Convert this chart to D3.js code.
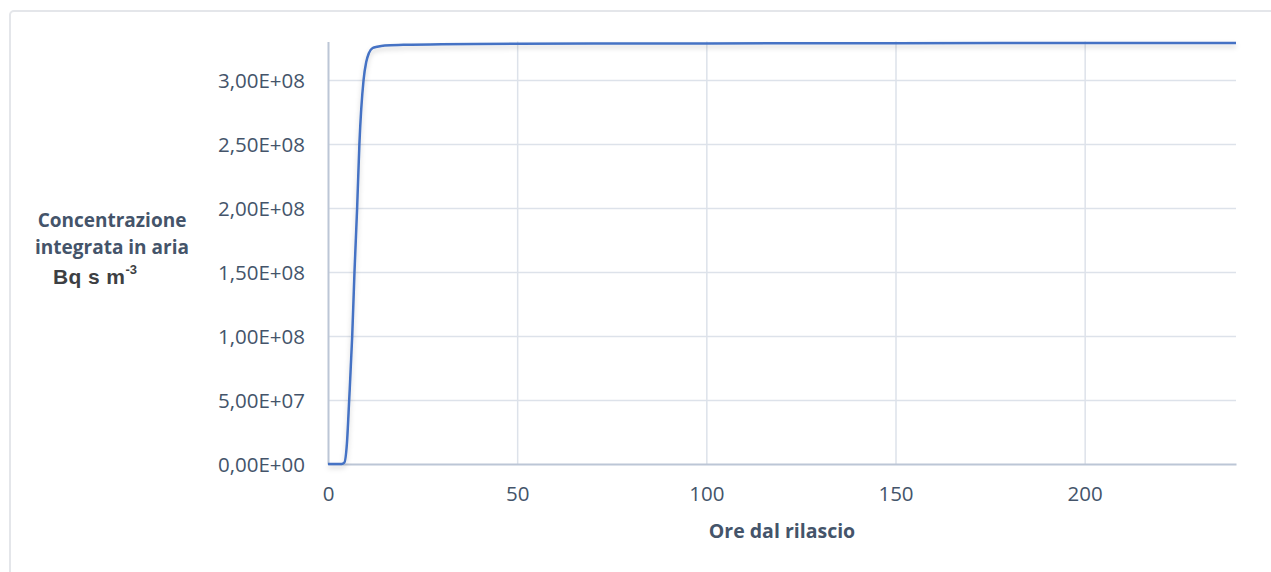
<!DOCTYPE html>
<html>
<head>
<meta charset="utf-8">
<script src="https://cdn.jsdelivr.net/npm/d3@7/dist/d3.min.js"></script>
<style>
  html, body { margin: 0; padding: 0; background: #ffffff; }
  svg { display: block; }
</style>
</head>
<body>
<svg id="chart" width="1271" height="572"></svg>
<script>
// Integrated air concentration after release (hours -> Bq s m^-3)
const hours = [0, 2, 3.6, 4.3, 5, 5.6, 6.4, 7.0, 7.7, 8.3, 9.4, 10.1, 10.8, 11.8, 13, 15, 20, 30, 50, 100, 150, 200, 240];
const concentration = [0, 0, 0, 0.01e8, 0.16e8, 0.5e8, 1.0e8, 1.5e8, 2.0e8, 2.5e8, 3.0e8, 3.14e8, 3.21e8, 3.25e8, 3.26e8, 3.27e8, 3.275e8, 3.28e8, 3.283e8, 3.286e8, 3.288e8, 3.29e8, 3.29e8];

const xTicks = [0, 50, 100, 150, 200];
const yTicks = [0, 5e7, 1e8, 1.5e8, 2e8, 2.5e8, 3e8];

const xTitle = "Ore dal rilascio";
const yTitleLines = ["Concentrazione", "integrata in aria"];

const svg = d3.select("#chart");
const W = 1271, H = 572;
const margin = { left: 328, right: W - 1236, top: 41.6, bottom: H - 464 };

const x = d3.scaleLinear().domain([0, 240]).range([margin.left, W - margin.right]);
const y = d3.scaleLinear().domain([0, 3.3e8]).range([H - margin.bottom, margin.top]);

const textColor = "#44546a";
const gridColor = "#dde2ea";
const axisColor = "#bcc6d6";
const lineColor = "#4472c4";

// outer chart-area frame
svg.append("rect")
  .attr("x", 10).attr("y", 11)
  .attr("width", W + 20).attr("height", H + 20)
  .attr("rx", 4)
  .attr("fill", "none")
  .attr("stroke", "#e4e6ea")
  .attr("stroke-width", 2);

const defs = svg.append("defs");
const shadow = defs.append("filter").attr("id", "lineShadow")
  .attr("x", "-5%").attr("y", "-5%").attr("width", "110%").attr("height", "120%");
shadow.append("feDropShadow")
  .attr("dx", 0).attr("dy", 3).attr("stdDeviation", 2.5)
  .attr("flood-color", "#000").attr("flood-opacity", 0.18);

const fmt = v => {
  const s = v.toExponential(2).replace(".", ",");
  const [m, e] = s.split("e");
  const sign = e[0] === "-" ? "-" : "+";
  const exp = e.replace(/[+-]/, "").padStart(2, "0");
  return `${m}E${sign}${exp}`;
};

// horizontal gridlines
svg.append("g")
  .attr("transform", `translate(${margin.left},0)`)
  .call(d3.axisLeft(y).tickValues(yTicks.filter(d => d > 0)).tickSize(-(x.range()[1] - x.range()[0])).tickFormat(""))
  .call(g => g.select(".domain").remove())
  .call(g => g.selectAll("line").attr("stroke", gridColor).attr("stroke-width", 1.5));

// vertical gridlines
svg.append("g")
  .attr("transform", `translate(0,${y(0)})`)
  .call(d3.axisBottom(x).tickValues(xTicks.filter(d => d > 0)).tickSize(-(y.range()[0] - y.range()[1])).tickFormat(""))
  .call(g => g.select(".domain").remove())
  .call(g => g.selectAll("line").attr("stroke", gridColor).attr("stroke-width", 1.5));

// y axis line + labels
const yAxis = svg.append("g")
  .attr("transform", `translate(${margin.left},0)`)
  .call(d3.axisLeft(y).tickValues(yTicks).tickSize(0).tickPadding(23).tickFormat(fmt));
yAxis.select(".domain").attr("stroke", axisColor).attr("stroke-width", 2);
yAxis.selectAll("text")
  .attr("fill", textColor)
  .attr("font-family", "'Open Sans', sans-serif")
  .attr("font-size", 20.5)
  .attr("dy", "0.35em");

// x axis line + labels
const xAxis = svg.append("g")
  .attr("transform", `translate(0,${y(0)})`)
  .call(d3.axisBottom(x).tickValues(xTicks).tickSize(0).tickPadding(22).tickFormat(d3.format("d")));
xAxis.select(".domain").attr("stroke", axisColor).attr("stroke-width", 2);
xAxis.selectAll("text")
  .attr("fill", textColor)
  .attr("font-family", "'Open Sans', sans-serif")
  .attr("font-size", 20.5);

// data line
const line = d3.line()
  .x((d, i) => x(hours[i]))
  .y(d => y(d))
  .curve(d3.curveMonotoneX);

svg.append("path")
  .datum(concentration)
  .attr("d", line)
  .attr("fill", "none")
  .attr("stroke", lineColor)
  .attr("stroke-width", 2.5)
  .attr("stroke-linejoin", "round")
  .attr("filter", "url(#lineShadow)");

// axis titles
svg.append("text")
  .attr("x", (x.range()[0] + x.range()[1]) / 2)
  .attr("y", 538)
  .attr("text-anchor", "middle")
  .attr("fill", textColor)
  .attr("font-family", "'Open Sans', sans-serif")
  .attr("font-weight", "bold")
  .attr("font-size", 19.5)
  .text(xTitle);

svg.append("g").selectAll("text")
  .data(yTitleLines)
  .join("text")
  .attr("x", 112)
  .attr("y", (d, i) => 227 + i * 26.5)
  .attr("text-anchor", "middle")
  .attr("fill", textColor)
  .attr("font-family", "'Open Sans', sans-serif")
  .attr("font-weight", "bold")
  .attr("font-size", 19)
  .text(d => d);

const unit = svg.append("text")
  .attr("x", 53)
  .attr("y", 284)
  .attr("fill", "#3d3f43")
  .attr("font-family", "'Liberation Sans', Arial, sans-serif")
  .attr("font-weight", "bold")
  .attr("font-size", 21)
  .attr("letter-spacing", 0.4);
unit.append("tspan").text("Bq s m");
unit.append("tspan").attr("dy", -10).attr("font-size", 13).attr("letter-spacing", 0).text("-3");
</script>
</body>
</html>
